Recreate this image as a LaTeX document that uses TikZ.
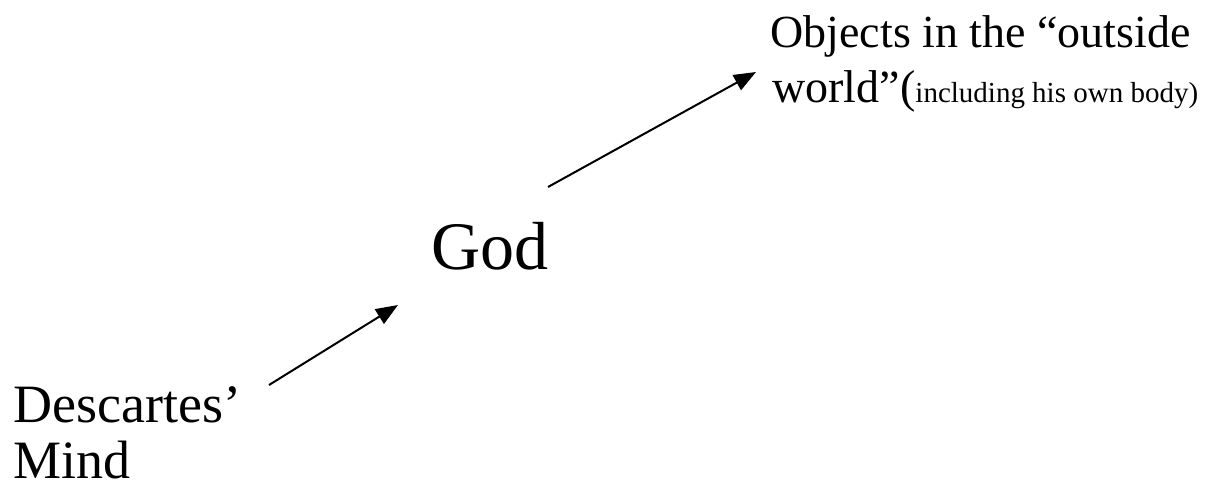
\documentclass[tikz,border=0pt]{standalone}
\usepackage{fontspec}
\setmainfont{Liberation Serif}
\usetikzlibrary{arrows.meta}
\begin{document}
\begin{tikzpicture}[x=0.5pt,y=-0.5pt,
  lbl/.style={inner sep=0pt,anchor=base west},
  big/.style={font=\fontsize{27pt}{32pt}\selectfont},
  mid/.style={font=\fontsize{23pt}{27pt}\selectfont},
  conn/.style={line width=1pt,-{Triangle[length=11pt,width=8.5pt]}}]
\useasboundingbox (0,0) rectangle (1205,488);
\node[lbl,big] (desc) at (13,422) {Descartes’};
\node[lbl,big] (mind) at (13,478) {Mind};
\node[lbl] (god) at (431,269) {\fontsize{34pt}{40pt}\selectfont God};
\node[lbl,mid] (obj) at (770,47) {Objects in the “outside};
\node[lbl,mid] (world) at (772,102) {world”(\fontsize{14.5pt}{17pt}\selectfont including his own body)};
\coordinate (a1s) at (269,385);
\coordinate (a1e) at (398,305);
\coordinate (a2s) at (548,187);
\coordinate (a2e) at (756,72);
\draw[conn] (a1s) -- (a1e);
\draw[conn] (a2s) -- (a2e);
\end{tikzpicture}
\end{document}
